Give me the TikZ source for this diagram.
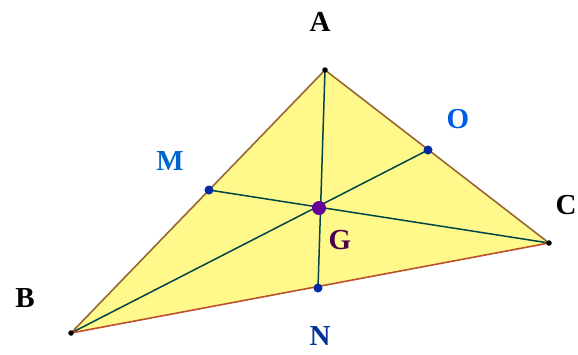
\documentclass[tikz,border=0pt]{standalone}
\usepackage{fontspec}
\setmainfont{Liberation Serif}
\begin{document}
\begin{tikzpicture}[x=1pt,y=-1pt,
  lbl/.style={font=\fontsize{29}{32}\selectfont\bfseries, inner sep=0pt},
  edge/.style={draw=brown!80!black, line width=1.6pt},
  median/.style={draw=teal!55!black, line width=1.5pt},
  vdot/.style={circle, fill=black, inner sep=0pt, minimum size=5.5pt},
  mdot/.style={circle, fill=blue!60!teal!80!black, inner sep=0pt, minimum size=9pt}]
\useasboundingbox (0,0) rectangle (578,354);
\coordinate (A) at (325,70);
\coordinate (B) at (71,333);
\coordinate (C) at (549,243);
\coordinate (M) at (209,190);
\coordinate (O) at (428,150);
\coordinate (N) at (318,288);
\coordinate (G) at (319,208);
\fill[yellow!45] (A) -- (B) -- (C) -- cycle;
\draw[median] (A) -- (N);
\draw[median] (M) -- (C);
\draw[median] (B) -- (O);
\draw[edge] (A) -- (B);
\draw[edge] (A) -- (C);
\draw[edge, draw=brown!70!red!90!black] (B) -- (C);
\node[vdot] (dA) at (A) {};
\node[vdot] (dB) at (B) {};
\node[vdot] (dC) at (C) {};
\node[mdot] (dM) at (M) {};
\node[mdot] (dO) at (O) {};
\node[mdot] (dN) at (N) {};
\node[circle, fill=violet!80!blue, inner sep=0pt, minimum size=14pt] (dG) at (G) {};
\node[lbl] (lA) at (320,22) {A};
\node[lbl] (lB) at (25,298) {B};
\node[lbl] (lC) at (566,205) {C};
\node[lbl, text=blue!50!cyan!80!black] (lM) at (170,161) {M};
\node[lbl, text=blue!60!cyan!90!black] (lO) at (458,119) {O};
\node[lbl, text=teal!50!blue!80!black] (lN) at (320,336) {N};
\node[lbl, text=violet!60!black] (lG) at (340,240) {G};
\end{tikzpicture}
\end{document}
